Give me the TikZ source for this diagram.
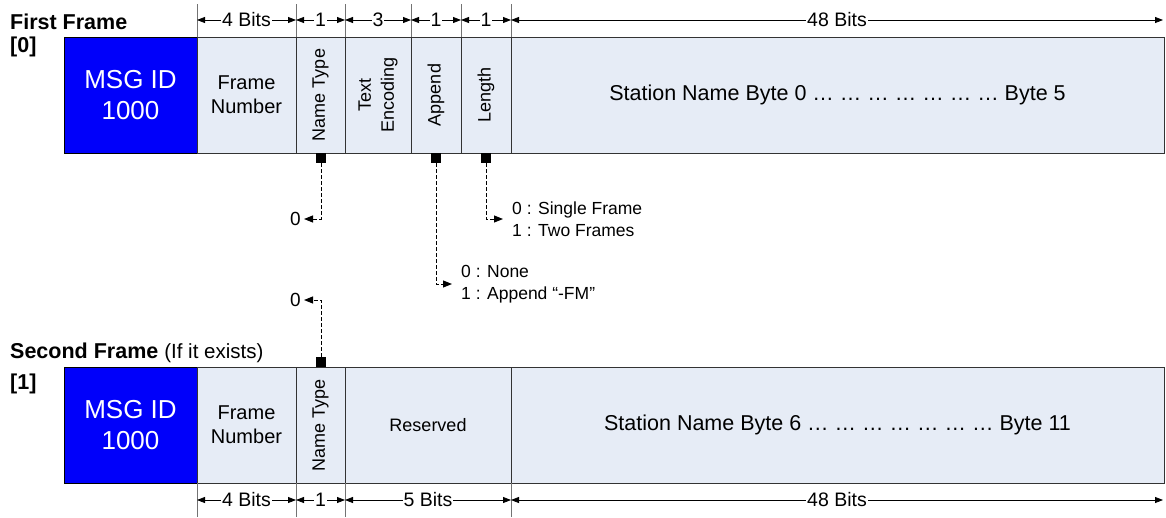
\documentclass[tikz,border=0pt]{standalone}
\usepackage{fontspec}
\setmainfont{Liberation Sans}
\usetikzlibrary{arrows.meta}

\definecolor{idblue}{RGB}{0,0,250}
\definecolor{fieldfill}{RGB}{230,236,246}

\tikzset{
  field/.style={draw=black!80, line width=1pt, fill=fieldfill, minimum height=116pt,
    inner sep=0pt, align=center, font=\fontsize{20}{24}\selectfont},
  msgid/.style={field, fill=idblue, draw=black, text=white, font=\fontsize{26}{31}\selectfont},
  vlabel/.style={rotate=90, align=center, inner sep=0pt, font=\fontsize{18}{23}\selectfont},
  tick/.style={draw=black!55, line width=0.8pt},
  dim/.style={{Triangle[length=8pt,width=6pt]}-{Triangle[length=8pt,width=6pt]}, line width=0.8pt},
  dimlabel/.style={fill=white, inner xsep=1pt, inner ysep=0pt, font=\fontsize{19.5}{21}\selectfont},
  tap/.style={fill=black, minimum size=10pt, inner sep=0pt},
  tapline/.style={-{Triangle[length=9pt,width=7pt]}, dash pattern=on 4pt off 2pt, line width=1pt},
  note/.style={align=left, inner xsep=9pt, font=\fontsize{17.5}{22}\selectfont},
  zero/.style={note, anchor=east, inner xsep=3pt, font=\fontsize{19}{22}\selectfont},
  title/.style={anchor=west, inner sep=0pt, font=\bfseries\fontsize{21.5}{24}\selectfont}
}

\begin{document}
\begin{tikzpicture}[x=1pt, y=-1pt]
\useasboundingbox (0,0) rectangle (1166,517);

% First frame
\node[title] (t0) at (10,22) {First Frame};
\node[title] (i0) at (10,47) {[0]};

\node[msgid, minimum width=133pt] (id0) at (130.5,95) {MSG ID\\1000};
\node[field, minimum width=99pt] (num0) at (246.5,95) {Frame\\Number};
\node[field, minimum width=49pt] (ntype0) at (320.5,95) {};
\node[field, minimum width=66pt] (enc0) at (378,95) {};
\node[field, minimum width=50pt] (app0) at (436,95) {};
\node[field, minimum width=50pt] (len0) at (486,95) {};
\node[field, minimum width=653pt, font=\fontsize{21.5}{26}\selectfont] (name0) at (837.5,95)
  {Station Name Byte 0 … … … … … … … Byte 5};

\node[vlabel] (ntypeL0) at (ntype0) {Name Type};
\node[vlabel] (encL0) at (enc0) {Text\\Encoding};
\node[vlabel] (appL0) at (app0) {Append};
\node[vlabel] (lenL0) at (len0) {Length};

% Bit widths above
\foreach \x in {197,296,345,411,461,511}
  \draw[tick] (\x,4) -- (\x,37);
\foreach \xa/\xb/\txt in {197/296/4 Bits, 296/345/1, 345/411/3, 411/461/1, 461/511/1, 511/1163/48 Bits}
  \draw[dim] (\xa,20) -- (\xb,20) node[midway, dimlabel] {\txt};

% Flag values
\node[tap] (tapN0) at (321,158) {};
\node[tap] (tapA0) at (436,158) {};
\node[tap] (tapL0) at (486,158) {};

\node[zero] (val0) at (304,219) {0};
\node[note, anchor=west] (lenval) at (503,219) {0 : Single Frame\\1 : Two Frames};
\node[note, anchor=west] (appval) at (452,284) {0 : None\\1 : Append “-FM”};
\node[zero] (val1) at (304,300) {0};

\draw[tapline] (tapN0) |- (val0);
\draw[tapline] (tapA0) |- (appval);
\draw[tapline] (tapL0) |- (lenval);

% Second frame
\node[title] (t1) at (10,353) {Second Frame \mdseries\fontsize{20.5}{22}\selectfont(If it exists)};
\node[title] (i1) at (10,384) {[1]};

\node[msgid, minimum width=133pt] (id1) at (130.5,425) {MSG ID\\1000};
\node[field, minimum width=99pt] (num1) at (246.5,425) {Frame\\Number};
\node[field, minimum width=49pt] (ntype1) at (320.5,425) {};
\node[field, minimum width=166pt, font=\fontsize{18}{20}\selectfont] (res1) at (428,425) {Reserved};
\node[field, minimum width=653pt, font=\fontsize{21.5}{26}\selectfont] (name1) at (837.5,425)
  {Station Name Byte 6 … … … … … … … Byte 11};

\node[vlabel] (ntypeL1) at (ntype1) {Name Type};

\node[tap] (tapN1) at (321,362) {};
\draw[tapline] (tapN1) |- (val1);

% Bit widths below
\foreach \x in {197,296,345,511}
  \draw[tick] (\x,483) -- (\x,517);
\foreach \xa/\xb/\txt in {197/296/4 Bits, 296/345/1, 345/511/5 Bits, 511/1163/48 Bits}
  \draw[dim] (\xa,500) -- (\xb,500) node[midway, dimlabel] {\txt};

\end{tikzpicture}
\end{document}
